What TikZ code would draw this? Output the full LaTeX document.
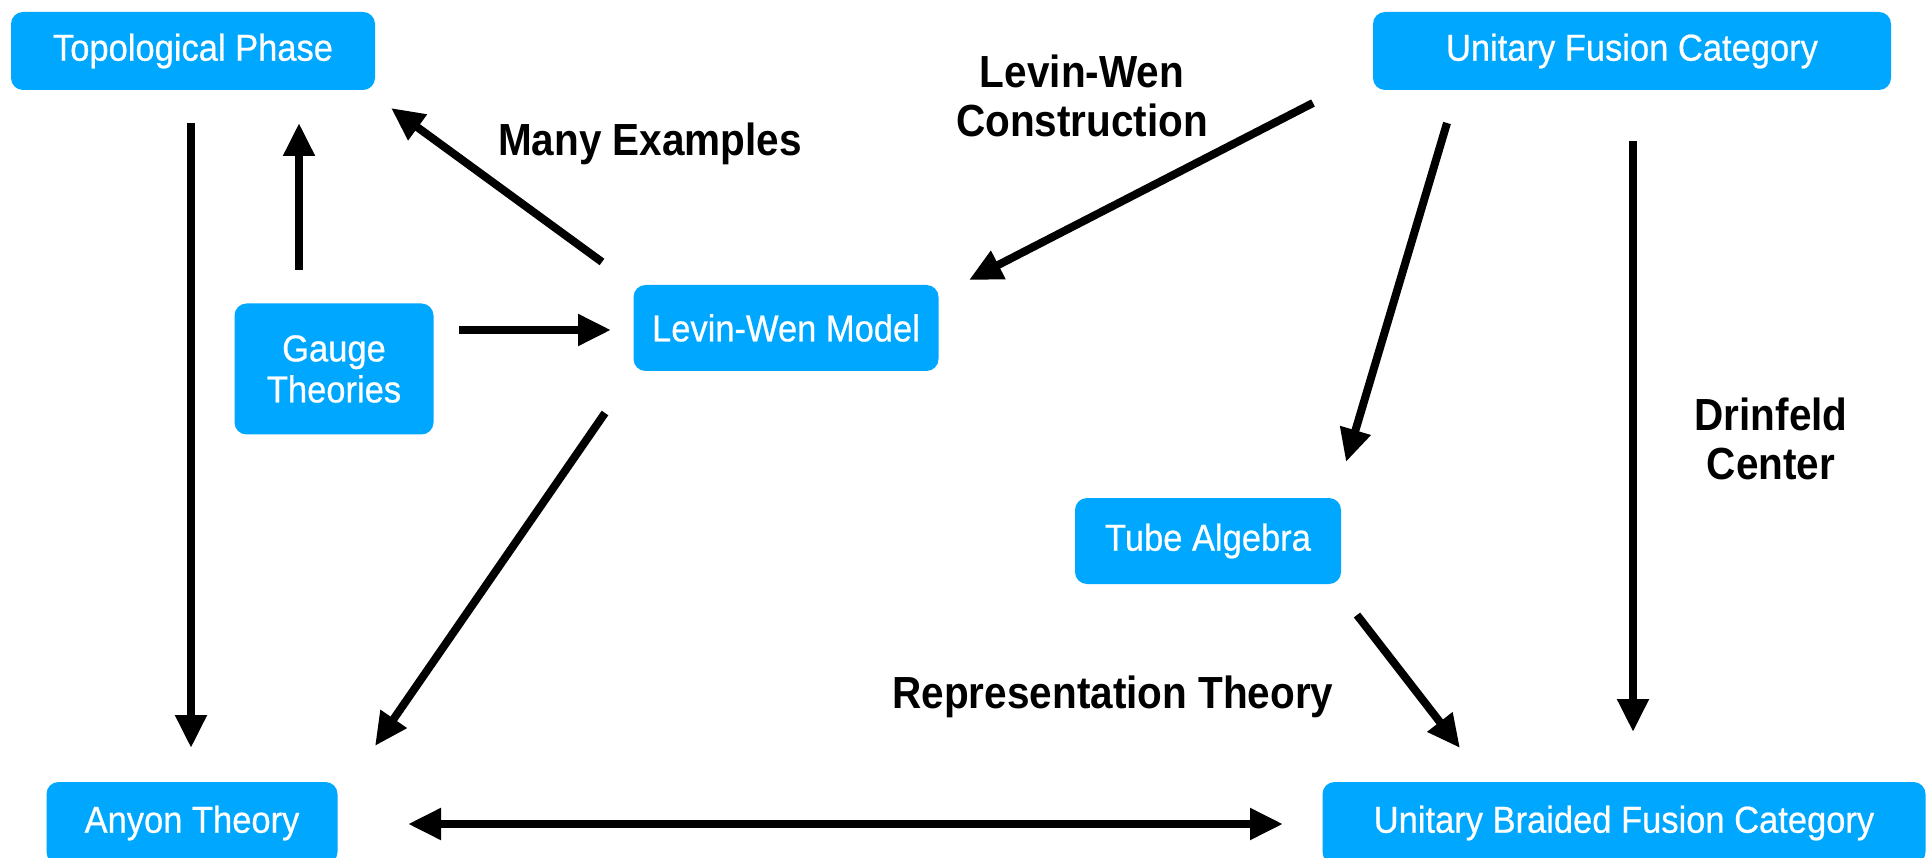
\documentclass[tikz,border=0pt]{standalone}
\usepackage{fontspec}
\setmainfont{Liberation Sans}
\newfontfamily\conceptfont[FakeStretch=0.92,FakeBold=0.6]{Liberation Sans}
\newfontfamily\labelfont[FakeStretch=0.9]{Liberation Sans Bold}
\usetikzlibrary{arrows.meta}
\definecolor{boxblue}{RGB}{0,167,255}
\tikzset{
  concept/.style={fill=boxblue, rounded corners=12pt, text=white, align=center,
    font=\conceptfont\fontsize{37.5}{41}\selectfont, inner sep=0pt},
  edgelabel/.style={align=center, font=\labelfont\fontsize{45}{49}\selectfont, inner sep=0pt},
  arr/.style={line width=8pt, -{Triangle[length=33pt,width=30pt]}},
  dblarr/.style={line width=8pt, {Triangle[length=33pt,width=30pt]}-{Triangle[length=33pt,width=30pt]}}
}
\begin{document}
\begin{tikzpicture}[x=1pt, y=-1pt]
\useasboundingbox (0,0) rectangle (1928,858);
\fill[white] (0,0) rectangle (1928,858);

% concepts
\node[concept, minimum width=364pt, minimum height=78pt] (tp)   at (193,51)  {Topological Phase};
\node[concept, minimum width=518pt, minimum height=78pt] (ufc)  at (1632,51) {Unitary Fusion Category};
\node[concept, minimum width=199pt, minimum height=131pt] (gt)  at (334,369) {Gauge\\Theories};
\node[concept, minimum width=305pt, minimum height=86pt] (lw)   at (786,328) {Levin-Wen Model};
\node[concept, minimum width=266pt, minimum height=86pt] (tube) at (1208,541) {Tube Algebra};
\node[concept, minimum width=291pt, minimum height=82pt] (any)  at (192,823) {Anyon Theory};
\node[concept, minimum width=603pt, minimum height=82pt] (ubfc) at (1624,823) {Unitary Braided Fusion Category};

% edge labels
\node[edgelabel] (lmany) at (650,144) {Many Examples};
\node[edgelabel] (llwc)  at (1082,96) {Levin-Wen\\Construction};
\node[edgelabel] (ldrin) at (1771,439) {Drinfeld\\Center};
\node[edgelabel] (lrep)  at (1113,697) {Representation Theory};

% connector end points
\coordinate (tp-a)   at (191,123);  \coordinate (any-a)  at (191,748);
\coordinate (gt-a)   at (299,270);  \coordinate (tp-b)   at (299,123);
\coordinate (lw-a)   at (602,262);  \coordinate (tp-c)   at (391,108);
\coordinate (gt-b)   at (459,330);  \coordinate (lw-b)   at (611,330);
\coordinate (lw-c)   at (605,413);  \coordinate (any-b)  at (375,746);
\coordinate (ufc-a)  at (1313,103); \coordinate (lw-d)   at (969,280);
\coordinate (ufc-b)  at (1447,123); \coordinate (tube-a) at (1346,462);
\coordinate (ufc-c)  at (1633,141); \coordinate (ubfc-a) at (1633,732);
\coordinate (tube-b) at (1357,615); \coordinate (ubfc-b) at (1460,748);
\coordinate (any-c)  at (408,824);  \coordinate (ubfc-c) at (1283,824);

% connectors
\draw[arr] (tp-a) -- (any-a);
\draw[arr] (gt-a) -- (tp-b);
\draw[arr] (lw-a) -- (tp-c);
\draw[arr] (gt-b) -- (lw-b);
\draw[arr] (lw-c) -- (any-b);
\draw[arr] (ufc-a) -- (lw-d);
\draw[arr] (ufc-b) -- (tube-a);
\draw[arr] (ufc-c) -- (ubfc-a);
\draw[arr] (tube-b) -- (ubfc-b);
\draw[dblarr] (any-c) -- (ubfc-c);
\end{tikzpicture}
\end{document}
